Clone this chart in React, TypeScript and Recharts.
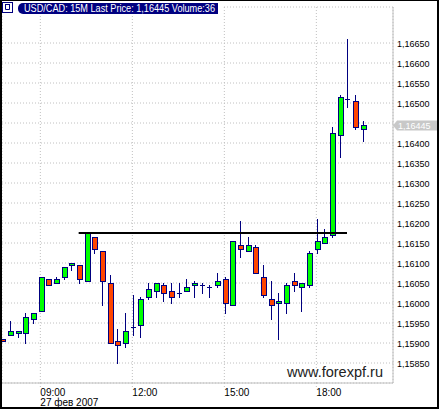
import React from 'react';
import { ComposedChart, Bar, XAxis, YAxis, CartesianGrid, ReferenceLine } from 'recharts';

// 15-minute USD/CAD candles, 27 Feb 2007 (first one is cut by the left edge)
const times = [
  '07:45', '08:00', '08:15', '08:30', '08:45', '09:00', '09:15', '09:30', '09:45', '10:00', '10:15', '10:30',
  '10:45', '11:00', '11:15', '11:30', '11:45', '12:00', '12:15', '12:30', '12:45', '13:00', '13:15', '13:30',
  '13:45', '14:00', '14:15', '14:30', '14:45', '15:00', '15:15', '15:30', '15:45', '16:00', '16:15', '16:30',
  '16:45', '17:00', '17:15', '17:30', '17:45', '18:00', '18:15', '18:30', '18:45', '19:00', '19:15', '19:30',
];
const opens = [
  1.1591, 1.1592, 1.15925, 1.15925, 1.1596, 1.1598, 1.1606, 1.1605, 1.16065, 1.16095, 1.16095, 1.16055,
  1.16165, 1.1613, 1.1605, 1.15905, 1.159, 1.1594, 1.15945, 1.16015, 1.1603, 1.16045, 1.1603, 1.16025,
  1.1603, 1.16045, 1.16045, 1.1604, 1.16045, 1.1606, 1.15995, 1.16145, 1.1613, 1.1614, 1.16065, 1.1601,
  1.16, 1.16, 1.16055, 1.1604, 1.16045, 1.16135, 1.1615, 1.1617, 1.1642, 1.1651, 1.16505, 1.16435,
];
const highs = [
  1.1591, 1.15955, 1.1593, 1.15975, 1.15975, 1.16065, 1.1606, 1.16065, 1.1609, 1.161, 1.16095, 1.16178,
  1.16165, 1.1613, 1.1607, 1.15935, 1.15975, 1.1602, 1.16015, 1.1605, 1.1605, 1.1605, 1.1605, 1.1605,
  1.1606, 1.16055, 1.1605, 1.16045, 1.16075, 1.16065, 1.16155, 1.16205, 1.16165, 1.16145, 1.16095, 1.16055,
  1.16025, 1.1605, 1.16075, 1.1605, 1.1613, 1.1621, 1.16185, 1.1644, 1.1652, 1.1666, 1.1652, 1.16455,
];
const lows = [
  1.15905, 1.1592, 1.15915, 1.159, 1.1595, 1.1598, 1.16045, 1.1605, 1.1606, 1.16083, 1.1605, 1.16055,
  1.16125, 1.15995, 1.159, 1.1585, 1.1589, 1.1592, 1.15915, 1.1601, 1.16015, 1.16005, 1.16, 1.16015,
  1.1603, 1.16015, 1.16025, 1.16015, 1.1604, 1.15975, 1.15995, 1.16115, 1.1613, 1.16075, 1.16015, 1.1596,
  1.1591, 1.15975, 1.1603, 1.1598, 1.1604, 1.16125, 1.1615, 1.16165, 1.16365, 1.1649, 1.16435, 1.16405,
];
const closes = [
  1.15905, 1.1593, 1.1593, 1.15965, 1.15975, 1.16065, 1.16045, 1.1606, 1.1609, 1.161, 1.1606, 1.16175,
  1.16135, 1.16055, 1.159, 1.15895, 1.1593, 1.1594, 1.1601, 1.16035, 1.1605, 1.16025, 1.16015, 1.16025,
  1.1604, 1.1605, 1.16045, 1.1604, 1.16055, 1.16, 1.16155, 1.16135, 1.16145, 1.16075, 1.1602, 1.15995,
  1.16005, 1.16045, 1.16045, 1.1605, 1.16125, 1.16155, 1.16165, 1.16425, 1.16515, 1.1651, 1.1644, 1.16445,
];

const priceTicks = [
  1.1585, 1.159, 1.1595, 1.16, 1.1605, 1.161, 1.1615, 1.162, 1.1625,
  1.163, 1.1635, 1.164, 1.1645, 1.165, 1.1655, 1.166, 1.1665,
];
const timeTicks = [5, 17, 29, 41];
const timeLabels = ['09:00', '12:00', '15:00', '18:00'];
const dateLabel = '27 фев 2007';
const lastPrice = 1.16445;
const volume = 36;
// horizontal level drawn by hand on the original chart
const levelPrice = 1.16175;
const levelFrom = 10;
const levelTo = 45;

const data = times.map((t, i) => ({
  idx: i,
  time: t,
  open: opens[i],
  high: highs[i],
  low: lows[i],
  close: closes[i],
  range: [lows[i], highs[i]],
}));

const FONT = "'Liberation Sans', Arial, sans-serif";
const NAVY = '#000080';
const UP = '#00ff00';
const DOWN = '#ff4500';
const GRID = '#c0c0c0';

const fmt = (v: number) => v.toFixed(5).replace('.', ',');

const Candle = (props: any) => {
  const { x, y, width, height, payload } = props;
  if (x == null || payload == null) return null;
  const { open, close, high, low } = payload;
  const top = Math.min(y, y + height);
  const h = Math.abs(height);
  const span = high - low || 1;
  const py = (v: number) => top + ((high - v) / span) * h;
  const c = Math.round(x + width / 2);
  const wx = c + 0.5;
  const hiRow = Math.round(py(high));
  const loRow = Math.round(py(low));
  const bTop = Math.round(py(Math.max(open, close)));
  const bBot = Math.round(py(Math.min(open, close)));
  const up = close > open;
  return (
    <g shapeRendering="crispEdges">
      <line x1={wx} x2={wx} y1={hiRow} y2={loRow + 1} stroke={NAVY} strokeWidth={1} />
      {bBot - bTop < 1 ? (
        <line x1={c - 2} x2={c + 3} y1={bTop + 0.5} y2={bTop + 0.5} stroke={NAVY} strokeWidth={1} />
      ) : (
        <rect
          x={c - 1.5}
          y={bTop + 0.5}
          width={5}
          height={bBot - bTop}
          fill={up ? UP : DOWN}
          stroke={NAVY}
          strokeWidth={1}
        />
      )}
    </g>
  );
};

// the last-price tag covers the label it sits on
const PriceTick = ({ x, y, payload }: any) => {
  if (Math.abs(payload.value - lastPrice) < 0.0001) return <g />;
  return (
    <text x={x + 4} y={y + 3.5} fontSize={9} fontFamily={FONT} fill="#000">
      {fmt(payload.value)}
    </text>
  );
};

const TimeTick = ({ x, y, payload, index }: any) => {
  const i = timeTicks.indexOf(payload.value);
  return (
    <g>
      <line x1={x} x2={x} y1={y} y2={y + 6} stroke={GRID} strokeDasharray="1 2" />
      <text x={x} y={y + 13} fontSize={10} fontFamily={FONT} fill="#000">
        {timeLabels[i >= 0 ? i : index]}
      </text>
      {i === 0 && (
        <text x={x} y={y + 23} fontSize={10} fontFamily={FONT} fill="#000">
          {dateLabel}
        </text>
      )}
    </g>
  );
};

const LastPriceTag = (props: any) => {
  const vb = props.viewBox || {};
  const right = (vb.x || 0) + (vb.width || 0);
  const yy = Math.round(vb.y || 0) + 0.5;
  return (
    <g>
      <polygon
        points={`${right},${yy} ${right + 4},${yy - 5} ${right + 44},${yy - 5} ${right + 44},${yy + 5} ${right + 4},${yy + 5}`}
        fill="#c8c8c8"
      />
      <text x={right + 5} y={yy + 3.5} fontSize={9} fontFamily={FONT} fill="#fff">
        {fmt(lastPrice)}
      </text>
    </g>
  );
};

export default function App() {
  const title = `USD/CAD: 15M Last Price: ${fmt(lastPrice)} Volume:${volume}`;
  return (
    <div style={{ position: 'absolute', left: 0, top: 0, width: 439, height: 409, background: '#fff' }}>
      <ComposedChart width={439} height={409} data={data} margin={{ top: 7, right: 0, bottom: 0, left: 2 }}>
        <CartesianGrid stroke={GRID} strokeDasharray="1 2" />
        <XAxis
          dataKey="idx"
          type="number"
          domain={[0, 51]}
          ticks={timeTicks}
          allowDataOverflow
          height={26}
          tickSize={0}
          tickMargin={0}
          tickLine={false}
          axisLine={{ stroke: GRID }}
          tick={<TimeTick />}
          interval={0}
        />
        <XAxis xAxisId="top" orientation="top" dataKey="idx" type="number" domain={[0, 51]} height={0} tick={false} tickLine={false} axisLine={{ stroke: GRID }} />
        <YAxis
          orientation="right"
          width={46}
          domain={[1.158, 1.1674]}
          ticks={priceTicks}
          allowDataOverflow
          tickSize={0}
          tickMargin={0}
          tickLine={false}
          axisLine={{ stroke: GRID }}
          tick={<PriceTick />}
          interval={0}
        />
        <Bar dataKey="range" barSize={6} shape={<Candle />} isAnimationActive={false} />
        <ReferenceLine
          segment={[{ x: levelFrom, y: levelPrice }, { x: levelTo, y: levelPrice }]}
          stroke="#000"
          strokeWidth={2}
        />
        <ReferenceLine y={lastPrice} stroke="none" label={<LastPriceTag />} />
      </ComposedChart>
      <svg width={439} height={409} style={{ position: 'absolute', left: 0, top: 0, pointerEvents: 'none' }}>
        <rect x={0} y={0} width={222} height={16} fill="#fff" />
        <rect x={2.5} y={2.5} width={10} height={10} fill="#fff" stroke={NAVY} />
        <path d="M5.5 5 V9.5 H9.5 V5 M5 4.5 H10" fill="none" stroke={NAVY} />
        <path d="M218 3 H23 A5 5 0 0 0 18 8 V9 A5 5 0 0 0 23 14 H218 Z" fill={NAVY} />
        <text x={24} y={11.5} fontSize={10} fontFamily={FONT} fill="#fff" textLength={191} lengthAdjust="spacingAndGlyphs">
          {title}
        </text>
        <text x={287} y={377} fontSize={14} fontFamily={FONT} fill="#222" textLength={96} lengthAdjust="spacingAndGlyphs">
          www.forexpf.ru
        </text>
      </svg>
      <div
        style={{
          position: 'absolute',
          left: 0,
          top: 0,
          width: 439,
          height: 409,
          boxSizing: 'border-box',
          borderTop: '1px solid #000',
          borderLeft: '2px solid #000',
          borderRight: '2px solid #000',
          borderBottom: '2px solid #000',
          pointerEvents: 'none',
        }}
      />
    </div>
  );
}
